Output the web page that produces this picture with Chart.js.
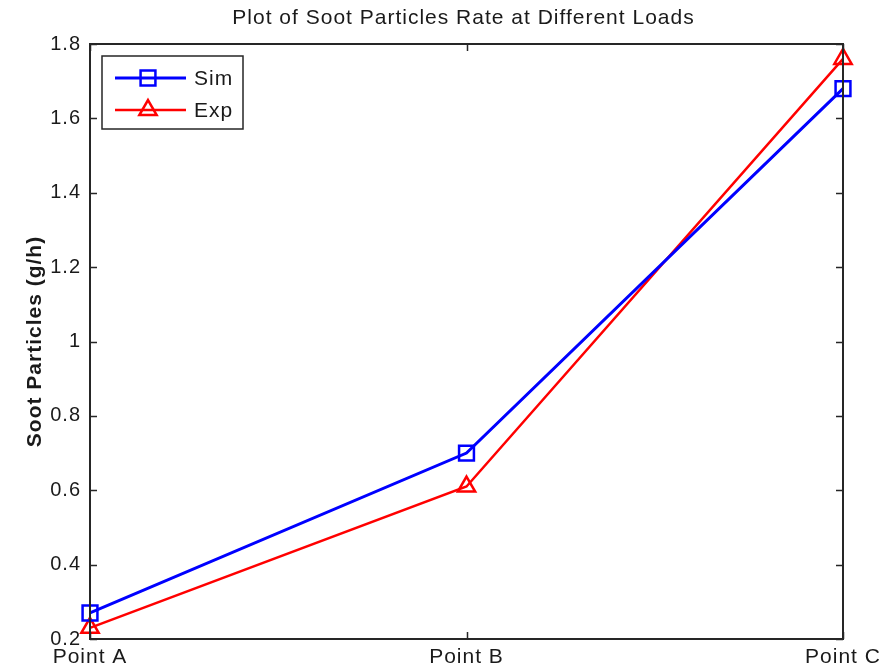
<!DOCTYPE html>
<html>
<head>
<meta charset="utf-8">
<script src="https://cdn.jsdelivr.net/npm/chart.js@4/dist/chart.umd.min.js"></script>
<style>
  html, body { margin: 0; padding: 0; background: #ffffff; }
  #wrap { width: 883px; height: 672px; position: relative; }
</style>
</head>
<body>
<div id="wrap"><canvas id="c" width="883" height="672"></canvas></div>
<script>
// Measurement points and series
const categories = ['Point A', 'Point B', 'Point C'];
const simValues = [0.27, 0.70, 1.68];
const expValues = [0.23, 0.61, 1.76];
const yTicks = [0.2, 0.4, 0.6, 0.8, 1, 1.2, 1.4, 1.6, 1.8];
const chartTitle = 'Plot of Soot Particles Rate at Different Loads';
const yAxisTitle = 'Soot Particles (g/h)';

const FONT = '"Liberation Sans", Arial, Helvetica, sans-serif';
const AXIS_COLOR = '#262626';
const TEXT_COLOR = '#1a1a1a';
const LETTER_SPACING = '1px';

// Wide, Helvetica-like text spacing for every label on the canvas
const spacingPlugin = {
  id: 'spacing',
  beforeInit(chart) { chart.ctx.letterSpacing = LETTER_SPACING; },
  beforeUpdate(chart) { chart.ctx.letterSpacing = LETTER_SPACING; },
  beforeDraw(chart) { chart.ctx.letterSpacing = LETTER_SPACING; }
};

// Frame box, inward tick marks, title and boxed legend
const framePlugin = {
  id: 'frame',
  afterDatasetsDraw(chart) {
    const { ctx, chartArea: a, scales } = chart;
    ctx.save();
    ctx.strokeStyle = AXIS_COLOR;
    ctx.lineWidth = 2;
    ctx.strokeRect(a.left, a.top, a.right - a.left, a.bottom - a.top);
    ctx.lineWidth = 1.5;
    const tl = 7;
    ctx.beginPath();
    scales.y.ticks.forEach(t => {
      const y = Math.round(scales.y.getPixelForValue(t.value)) + 0.5;
      ctx.moveTo(a.left, y); ctx.lineTo(a.left + tl, y);
      ctx.moveTo(a.right, y); ctx.lineTo(a.right - tl, y);
    });
    scales.x.ticks.forEach((t, i) => {
      const x = Math.round(scales.x.getPixelForTick(i)) + 0.5;
      ctx.moveTo(x, a.bottom); ctx.lineTo(x, a.bottom - tl);
      ctx.moveTo(x, a.top); ctx.lineTo(x, a.top + tl);
    });
    ctx.stroke();

    // title
    ctx.fillStyle = TEXT_COLOR;
    ctx.font = '21px ' + FONT;
    ctx.textAlign = 'center';
    ctx.textBaseline = 'middle';
    ctx.fillText(chartTitle, (a.left + a.right) / 2 - 3, 18);

    // legend
    const lx = 102, ly = 56, lw = 141, lh = 73;
    ctx.fillStyle = '#ffffff';
    ctx.fillRect(lx, ly, lw, lh);
    ctx.strokeStyle = AXIS_COLOR;
    ctx.lineWidth = 1.5;
    ctx.strokeRect(lx, ly, lw, lh);
    chart.data.datasets.forEach((ds, i) => {
      const y = ly + 22 + i * 32;
      ctx.strokeStyle = ds.borderColor;
      ctx.lineWidth = ds.borderWidth;
      ctx.beginPath();
      ctx.moveTo(lx + 13, y); ctx.lineTo(lx + 84, y);
      ctx.stroke();
      ctx.lineWidth = ds.pointBorderWidth;
      ctx.fillStyle = 'rgba(0,0,0,0)';
      Chart.helpers.drawPoint(ctx, {
        pointStyle: ds.pointStyle, radius: ds.pointRadius, rotation: 0, borderWidth: ds.pointBorderWidth
      }, lx + 46, y);
      ctx.fillStyle = TEXT_COLOR;
      ctx.font = '21px ' + FONT;
      ctx.textAlign = 'left';
      ctx.textBaseline = 'middle';
      ctx.fillText(ds.label, lx + 92, y + 1);
    });
    ctx.restore();
  }
};

const canvas = document.getElementById('c');
canvas.getContext('2d').letterSpacing = LETTER_SPACING;

new Chart(canvas, {
  type: 'line',
  data: {
    labels: categories,
    datasets: [
      {
        label: 'Sim', data: simValues,
        borderColor: '#0000ff', backgroundColor: 'rgba(0,0,0,0)',
        borderWidth: 3, pointStyle: 'rect', pointRadius: 10.5,
        pointBorderWidth: 2.5, pointBackgroundColor: 'rgba(0,0,0,0)',
        tension: 0, clip: false
      },
      {
        label: 'Exp', data: expValues,
        borderColor: '#ff0000', backgroundColor: 'rgba(0,0,0,0)',
        borderWidth: 2.5, pointStyle: 'triangle', pointRadius: 10,
        pointBorderWidth: 2.5, pointBackgroundColor: 'rgba(0,0,0,0)',
        tension: 0, clip: false
      }
    ]
  },
  options: {
    responsive: false,
    animation: false,
    events: [],
    layout: { padding: { left: 0, right: 40, top: 44, bottom: 0 } },
    plugins: {
      legend: { display: false },
      title: { display: false },
      tooltip: { enabled: false }
    },
    scales: {
      x: {
        type: 'category',
        offset: false,
        grid: { display: false, drawTicks: false },
        border: { display: false },
        ticks: {
          color: TEXT_COLOR, padding: 6, maxRotation: 0, autoSkip: false,
          font: { family: FONT, size: 21 }
        },
        afterFit(scale) {
          scale.height = 33;
          scale.paddingLeft = 0;
          scale.paddingRight = 0;
        }
      },
      y: {
        min: 0.2, max: 1.8,
        grid: { display: false, drawTicks: false },
        border: { display: false },
        afterBuildTicks(scale) { scale.ticks = yTicks.map(v => ({ value: v })); },
        ticks: {
          color: TEXT_COLOR, padding: 9,
          font: { family: FONT, size: 20 },
          callback: v => String(Math.round(v * 10) / 10)
        },
        title: {
          display: true, text: yAxisTitle, color: TEXT_COLOR,
          font: { family: FONT, size: 21, weight: 'bold' },
          padding: { top: 23, bottom: 0 }
        },
        afterFit(scale) {
          scale.width = 90;
          scale.paddingTop = 0;
          scale.paddingBottom = 0;
        }
      }
    }
  },
  plugins: [spacingPlugin, framePlugin]
});
</script>
</body>
</html>
